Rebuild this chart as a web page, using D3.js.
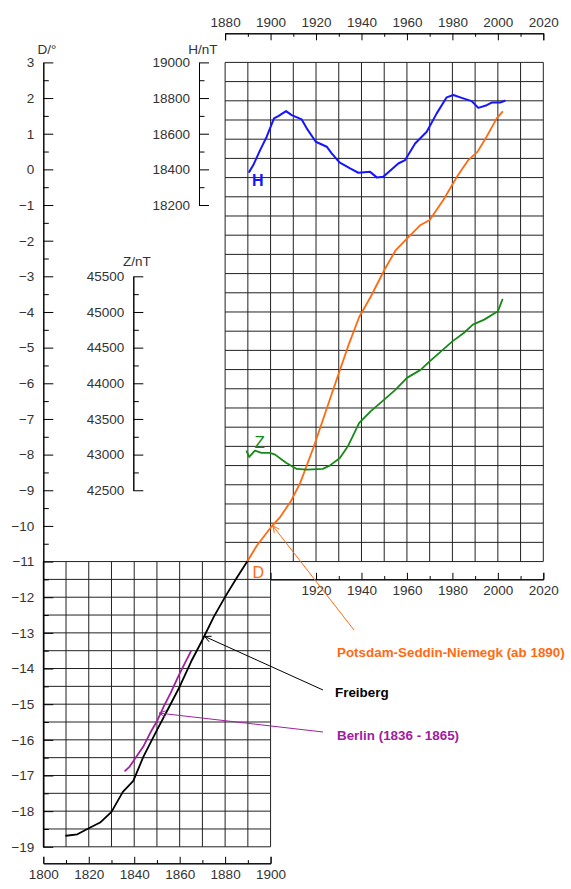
<!DOCTYPE html>
<html>
<head>
<meta charset="utf-8">
<script src="https://cdn.jsdelivr.net/npm/d3@7"></script>
<style>
  html, body { margin: 0; padding: 0; background: #fff; }
  svg { display: block; }
  text { font-family: "Liberation Sans", Arial, sans-serif; }
</style>
</head>
<body>
<svg id="chart" width="571" height="889"></svg>
<script>
// Declination D (deg), horizontal intensity H (nT), vertical intensity Z (nT)

// Potsdam - Seddin - Niemegk, declination
const psnYears = [1890, 1894, 1900, 1904, 1909, 1913, 1919, 1923, 1927, 1930.5, 1934, 1939, 1944, 1950, 1955, 1960, 1966, 1970, 1976, 1982, 1987, 1991, 1995, 1999.5, 2002];
const psnD     = [-10.97, -10.55, -10.05, -9.77, -9.3, -8.8, -7.78, -7.03, -6.28, -5.63, -4.98, -4.14, -3.58, -2.83, -2.27, -1.94, -1.56, -1.42, -0.86, -0.21, 0.26, 0.49, 0.91, 1.43, 1.61];

// Freiberg, declination
const frbYears = [1810, 1815, 1820, 1825, 1830, 1835, 1839.6, 1844, 1850, 1855, 1860, 1865, 1870, 1875, 1880, 1885, 1890];
const frbD     = [-18.69, -18.65, -18.48, -18.32, -18.02, -17.46, -17.15, -16.48, -15.73, -15.12, -14.51, -13.81, -13.2, -12.55, -11.99, -11.47, -10.97];

// Berlin 1836 - 1865, declination
const berYears = [1836, 1838, 1841, 1844, 1847, 1850, 1853, 1856, 1859.4, 1862.3, 1865];
const berD     = [-16.87, -16.75, -16.47, -16.19, -15.81, -15.48, -15.06, -14.69, -14.22, -13.85, -13.51];

// Horizontal intensity
const hYears = [1890.6, 1892.4, 1895.4, 1898.3, 1901.5, 1903.4, 1906.8, 1909.3, 1913.7, 1915.9, 1919.9, 1924.7, 1926.9, 1930.3, 1935, 1938.6, 1943.8, 1946.7, 1949.6, 1956.2, 1959.2, 1963.6, 1968.7, 1973.1, 1977.5, 1980.4, 1984.1, 1988.5, 1991.4, 1995.1, 1997.3, 2001, 2003.1];
const hVals  = [18386, 18424, 18508, 18583, 18686, 18699, 18727, 18704, 18680, 18630, 18555, 18527, 18490, 18439, 18405, 18381, 18386, 18355, 18358, 18433, 18452, 18545, 18611, 18714, 18804, 18817, 18801, 18783, 18745, 18760, 18775, 18775, 18785];

// Vertical intensity
const zYears = [1889.5, 1890.6, 1893.1, 1896, 1899.7, 1902, 1905, 1907, 1911.5, 1916, 1923, 1926, 1930.5, 1934, 1939, 1944, 1950, 1955, 1960, 1966, 1970, 1975, 1980, 1985, 1989, 1994, 2000, 2002];
const zVals  = [43046, 42967, 43055, 43023, 43023, 43000, 42929, 42883, 42799, 42789, 42799, 42845, 42953, 43116, 43444, 43607, 43771, 43912, 44076, 44188, 44308, 44448, 44588, 44705, 44822, 44893, 45009, 45173];

// Axis ticks
const dTicks = d3.range(3, -20, -1);
const hTicks = [19000, 18800, 18600, 18400, 18200];
const zTicks = [45500, 45000, 44500, 44000, 43500, 43000, 42500];
const yearTicksTop = [1880, 1900, 1920, 1940, 1960, 1980, 2000, 2020];
const yearTicksBottomRight = [1920, 1940, 1960, 1980, 2000, 2020];
const yearTicksBottomLeft = [1800, 1820, 1840, 1860, 1880, 1900];

// Annotations: label text, the point the arrow points at, colour
const notes = [
  { text: "Potsdam-Seddin-Niemegk (ab 1890)", year: 1901, d: -10.0, color: "#ff6a10", lx: 337, ly: 657, ex: 354, ey: 630 },
  { text: "Freiberg", year: 1871, d: -13.1, color: "#000000", lx: 335, ly: 697, ex: 323, ey: 690 },
  { text: "Berlin (1836 - 1865)", year: 1851, d: -15.25, color: "#a020a0", lx: 337, ly: 740, ex: 323, ey: 732 }
];

const svg = d3.select("#chart");
svg.append("rect").attr("width", 571).attr("height", 889).attr("fill", "#fff");

const x = d3.scaleLinear().domain([1800, 2020]).range([43.3, 543.3]);
const yD = d3.scaleLinear().domain([3, -19]).range([62.4, 846.8]);
const yH = d3.scaleLinear().domain([19000, 18200]).range([yD(3), yD(-1)]);
const yZ = d3.scaleLinear().domain([45500, 42500]).range([yD(-3), yD(-9)]);

const gridColor = "#222";
const textColor = "#333";
const fontSize = "13.5px";

// --- grids ---
const grid = svg.append("g").attr("fill", "none").attr("stroke", gridColor).attr("stroke-width", 1);
// upper-right grid 1880-2020, 26 equal rows
const upTop = yD(3), upBottom = yD(-11), upRows = 26;
d3.range(1880, 2021, 10).forEach(yr => {
  grid.append("line").attr("x1", x(yr)).attr("x2", x(yr)).attr("y1", upTop).attr("y2", upBottom);
});
d3.range(0, upRows + 1).forEach(i => {
  const yy = upTop + (upBottom - upTop) * i / upRows;
  grid.append("line").attr("x1", x(1880)).attr("x2", x(2020)).attr("y1", yy).attr("y2", yy);
});
// lower-left grid 1800-1900, half-degree rows
d3.range(1800, 1901, 10).forEach(yr => {
  grid.append("line").attr("x1", x(yr)).attr("x2", x(yr)).attr("y1", yD(-11)).attr("y2", yD(-19));
});
d3.range(-11, -19.01, -0.5).forEach(d => {
  grid.append("line").attr("x1", x(1800)).attr("x2", x(1900)).attr("y1", yD(d)).attr("y2", yD(d));
});

// --- helper to style axes ---
function styleAxis(g) {
  g.selectAll("path.domain").attr("stroke", "#000").attr("stroke-width", 1);
  g.selectAll(".tick line").attr("stroke", "#000").attr("stroke-width", 1);
  g.selectAll("text").attr("fill", textColor).style("font-size", fontSize)
    .style("font-family", "'Liberation Sans', Arial, sans-serif");
}

// vertical axis with ticks pointing right, labels on the left
function vAxis(scale, xPos, major, minor, label, labelX, labelY) {
  const gMinor = svg.append("g").attr("transform", `translate(${xPos},0)`)
    .call(d3.axisLeft(scale).tickValues(minor).tickFormat("").tickSizeInner(-5.5).tickSizeOuter(0));
  styleAxis(gMinor);
  const gMajor = svg.append("g").attr("transform", `translate(${xPos},0)`)
    .call(d3.axisLeft(scale).tickValues(major).tickFormat(d3.format("d")).tickSizeInner(-10).tickSizeOuter(0).tickPadding(9));
  styleAxis(gMajor);
  svg.append("text").attr("x", labelX).attr("y", labelY).attr("text-anchor", "middle")
    .attr("fill", textColor).style("font-size", fontSize).text(label);
}

vAxis(yD, 43.3, dTicks, d3.range(2.5, -19, -1), "D/°", 47, 54);
vAxis(yH, 199, hTicks, [18900, 18700, 18500, 18300], "H/nT", 203, 54);
vAxis(yZ, 133.3, zTicks, [45250, 44750, 44250, 43750, 43250, 42750], "Z/nT", 137, 266);

// horizontal year axes
function hAxis(axisFn, yPos, x0, x1, major, minor, size) {
  const sc = d3.scaleLinear().domain([x0, x1]).range([x(x0), x(x1)]);
  const gMinor = svg.append("g").attr("transform", `translate(0,${yPos})`)
    .call(axisFn(sc).tickValues(minor).tickFormat("").tickSizeInner(-size / 2).tickSizeOuter(0));
  styleAxis(gMinor);
  const gMajor = svg.append("g").attr("transform", `translate(0,${yPos})`)
    .call(axisFn(sc).tickValues(major).tickFormat(d3.format("d")).tickSizeInner(-size).tickSizeOuter(-size).tickPadding(6));
  styleAxis(gMajor);
}
hAxis(d3.axisTop, 33.3, 1880, 2020, yearTicksTop, d3.range(1890, 2020, 20), 7);
hAxis(d3.axisBottom, 579.3, 1900, 2020, yearTicksBottomRight, d3.range(1930, 2020, 20), 6.5);
hAxis(d3.axisBottom, 863.3, 1800, 1900, yearTicksBottomLeft, d3.range(1810, 1900, 20), 6.5);

// --- curves ---
function drawLine(years, vals, yScale, color, width) {
  const pts = years.map((yr, i) => [yr, vals[i]]);
  svg.append("path").datum(pts)
    .attr("fill", "none").attr("stroke", color).attr("stroke-width", width)
    .attr("stroke-linejoin", "round").attr("stroke-linecap", "round")
    .attr("d", d3.line().x(d => x(d[0])).y(d => yScale(d[1])));
}
drawLine(frbYears, frbD, yD, "#000", 1.8);
drawLine(berYears, berD, yD, "#a020a0", 1.8);
drawLine(psnYears, psnD, yD, "#ff6a10", 1.8);
drawLine(hYears, hVals, yH, "#1515ff", 2);
drawLine(zYears, zVals, yZ, "#168a16", 1.8);

// curve letters
svg.append("text").attr("x", 252).attr("y", 185.5).attr("fill", "#1515ff")
  .style("font-size", "16px").style("font-weight", "bold").text("H");
svg.append("text").attr("x", 254.5).attr("y", 447.5).attr("fill", "#168a16")
  .style("font-size", "17px").text("Z");
svg.append("text").attr("x", 252.5).attr("y", 578).attr("fill", "#ff6a10")
  .style("font-size", "16px").text("D");

// --- annotations with open arrowheads ---
notes.forEach(n => {
  const tx = x(n.year), ty = yD(n.d);
  const g = svg.append("g").attr("stroke", n.color).attr("stroke-width", 1).attr("fill", "none");
  g.append("line").attr("x1", n.ex).attr("y1", n.ey).attr("x2", tx).attr("y2", ty);
  const ang = Math.atan2(n.ey - ty, n.ex - tx);
  const len = 7, spread = 0.45;
  [ang - spread, ang + spread].forEach(a => {
    g.append("line").attr("x1", tx).attr("y1", ty)
      .attr("x2", tx + len * Math.cos(a)).attr("y2", ty + len * Math.sin(a));
  });
  svg.append("text").attr("x", n.lx).attr("y", n.ly).attr("fill", n.color)
    .style("font-size", "13.4px").style("font-weight", "bold").text(n.text);
});
</script>
</body>
</html>
